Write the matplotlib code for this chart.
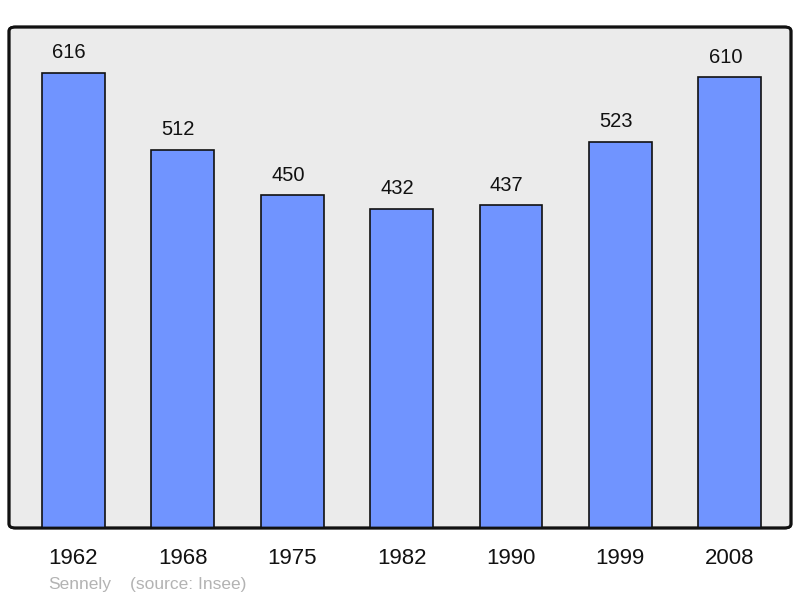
import matplotlib
matplotlib.use("Agg")
import matplotlib.pyplot as plt
from matplotlib.patches import FancyBboxPatch

years = ["1962", "1968", "1975", "1982", "1990", "1999", "2008"]
population = [616, 512, 450, 432, 437, 523, 610]
place = "Sennely"
source = "(source: Insee)"

plt.rcParams["font.family"] = ["Liberation Sans", "DejaVu Sans"]

fig = plt.figure(figsize=(8.0, 5.98), dpi=100)
ax = fig.add_axes([9 / 800, 70 / 598, 782 / 800, 501 / 598])
ax.set_facecolor("none")

x = list(range(len(years)))
ax.bar(x, population, width=0.575, color="#7094ff", edgecolor="#111111", linewidth=1.2, zorder=3)
for xi, v in zip(x, population):
    ax.annotate(str(v), (xi, v), xytext=(-3.2, 7.5), textcoords="offset points",
                ha="center", va="bottom", fontsize=14.5, color="#111111")

ax.set_xlim(-0.589, 6.56)
ax.set_ylim(0, 678)
ax.set_yticks([])
ax.set_xticks(x)
ax.set_xticklabels(years, fontsize=16, color="#111111")
ax.tick_params(axis="x", length=0, pad=14.5)
for s in ax.spines.values():
    s.set_visible(False)

frame = FancyBboxPatch((0, 0), 1, 1, boxstyle="round,pad=0,rounding_size=0.008",
                       transform=ax.transAxes, facecolor="#ebebeb", edgecolor="#111111",
                       linewidth=2, zorder=0, clip_on=False)
ax.add_patch(frame)
# border again, above the bars
border = FancyBboxPatch((0, 0), 1, 1, boxstyle="round,pad=0,rounding_size=0.008",
                        transform=ax.transAxes, facecolor="none", edgecolor="#111111",
                        linewidth=2, zorder=5, clip_on=False)
ax.add_patch(border)

fig.text(48 / 800, 1 - 584 / 598, place, fontsize=12.5, color="#b3b3b3", va="center", ha="left")
fig.text(130 / 800, 1 - 584 / 598, source, fontsize=12.5, color="#b3b3b3", va="center", ha="left")

fig.savefig("out.png", dpi=100)
